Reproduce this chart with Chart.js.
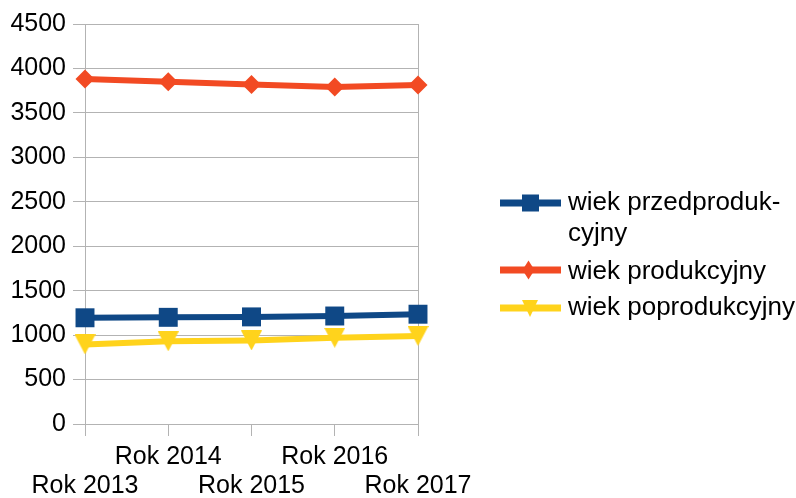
<!DOCTYPE html>
<html><head><meta charset="utf-8">
<script src="https://cdn.jsdelivr.net/npm/chart.js@4"></script>
<style>
html,body{margin:0;padding:0;background:#fff;}
#wrap{position:relative;width:796px;height:498px;overflow:hidden;}
#icons{position:absolute;left:0;top:0;}
.lt{position:absolute;left:568px;line-height:31px;white-space:nowrap;font-family:"Liberation Sans",Arial,sans-serif;font-size:26px;color:#000;}
</style></head><body>
<div id="wrap"><canvas id="c" width="796" height="498"></canvas>
<svg id="icons" width="796" height="498"></svg>
<div class="lt" id="l0" style="top:186px"></div>
<div class="lt" id="l1" style="top:254.5px"></div>
<div class="lt" id="l2" style="top:290.5px"></div>
</div>
<script>
const categories = ['Rok 2013', 'Rok 2014', 'Rok 2015', 'Rok 2016', 'Rok 2017'];
const przedprodukcyjny = [1195, 1200, 1205, 1215, 1235];
const produkcyjny = [3880, 3850, 3820, 3790, 3815];
const poprodukcyjny = [895, 930, 940, 970, 990];
const seriesNames = ['wiek przedprodukcyjny', 'wiek produkcyjny', 'wiek poprodukcyjny'];
const legendLines = [['wiek przedproduk-', 'cyjny'], ['wiek produkcyjny'], ['wiek poprodukcyjny']];
const yMin = 0, yMax = 4500, yStep = 500;

const COLORS = ['#0f4886', '#f24a23', '#ffd31c'];
const FONT = '"Liberation Sans", Arial, sans-serif';
const GRID = '#b3b3b3';

function triangleDown(color) {
  const c = document.createElement('canvas');
  c.width = 21; c.height = 20;
  const g = c.getContext('2d');
  g.fillStyle = color;
  g.beginPath(); g.moveTo(0, 0); g.lineTo(21, 0); g.lineTo(10.5, 20); g.closePath(); g.fill();
  return c;
}

const tickFont = {family: FONT, size: 25, lineHeight: 1.16};

new Chart(document.getElementById('c'), {
  type: 'line',
  data: {
    labels: categories,
    datasets: [
      {label: seriesNames[0], data: przedprodukcyjny, borderColor: COLORS[0], backgroundColor: COLORS[0],
       borderWidth: 6, tension: 0, pointStyle: 'rect', pointRadius: 13.4, pointBorderWidth: 0, clip: false},
      {label: seriesNames[1], data: produkcyjny, borderColor: COLORS[1], backgroundColor: COLORS[1],
       borderWidth: 6, tension: 0, pointStyle: 'rectRot', pointRadius: 9.5, pointBorderWidth: 0, clip: false},
      {label: seriesNames[2], data: poprodukcyjny, borderColor: COLORS[2], backgroundColor: COLORS[2],
       borderWidth: 6, tension: 0, pointStyle: triangleDown(COLORS[2]), pointRadius: 10, pointBorderWidth: 0, clip: false}
    ]
  },
  options: {
    responsive: false,
    animation: false,
    events: [],
    layout: {padding: {left: 0, right: 378, top: 24, bottom: 0}},
    plugins: {legend: {display: false}, tooltip: {enabled: false}},
    scales: {
      x: {
        grid: {
          color: (ctx) => (ctx.index === 0 || ctx.index === categories.length - 1) ? GRID : 'rgba(0,0,0,0)',
          tickColor: GRID, tickLength: 12, lineWidth: 1
        },
        border: {color: GRID},
        ticks: {
          autoSkip: false, maxRotation: 0, minRotation: 0, padding: 7, color: '#000', font: tickFont,
          callback: (v, i) => (i % 2 === 0 ? ['', categories[i]] : [categories[i]])
        },
        afterFit: (s) => { s.height = 74; }
      },
      y: {
        min: yMin, max: yMax,
        ticks: {stepSize: yStep, padding: 7, color: '#000', font: tickFont, callback: (v) => String(v)},
        grid: {color: GRID, tickColor: GRID, tickLength: 12, lineWidth: 1},
        border: {color: GRID},
        afterFit: (s) => { s.width = 85; }
      }
    }
  }
});

// legend
const svg = document.getElementById('icons');
const NS = 'http://www.w3.org/2000/svg';
function el(tag, attrs) { const e = document.createElementNS(NS, tag); for (const k in attrs) e.setAttribute(k, attrs[k]); svg.appendChild(e); return e; }
const ly = [203, 270, 308];
ly.forEach((y, i) => el('line', {x1: 500, y1: y, x2: 561, y2: y, stroke: COLORS[i], 'stroke-width': 7}));
el('rect', {x: 522, y: 194.5, width: 17, height: 17, fill: COLORS[0]});
el('polygon', {points: '528.5,260.5 534.5,270 528.5,279.5 522.5,270', fill: COLORS[1]});
el('polygon', {points: '522,300 538,300 530,317', fill: COLORS[2]});
legendLines.forEach((lines, i) => {
  const d = document.getElementById('l' + i);
  lines.forEach((t, j) => { if (j) d.appendChild(document.createElement('br')); d.appendChild(document.createTextNode(t)); });
});
</script>
</body></html>
